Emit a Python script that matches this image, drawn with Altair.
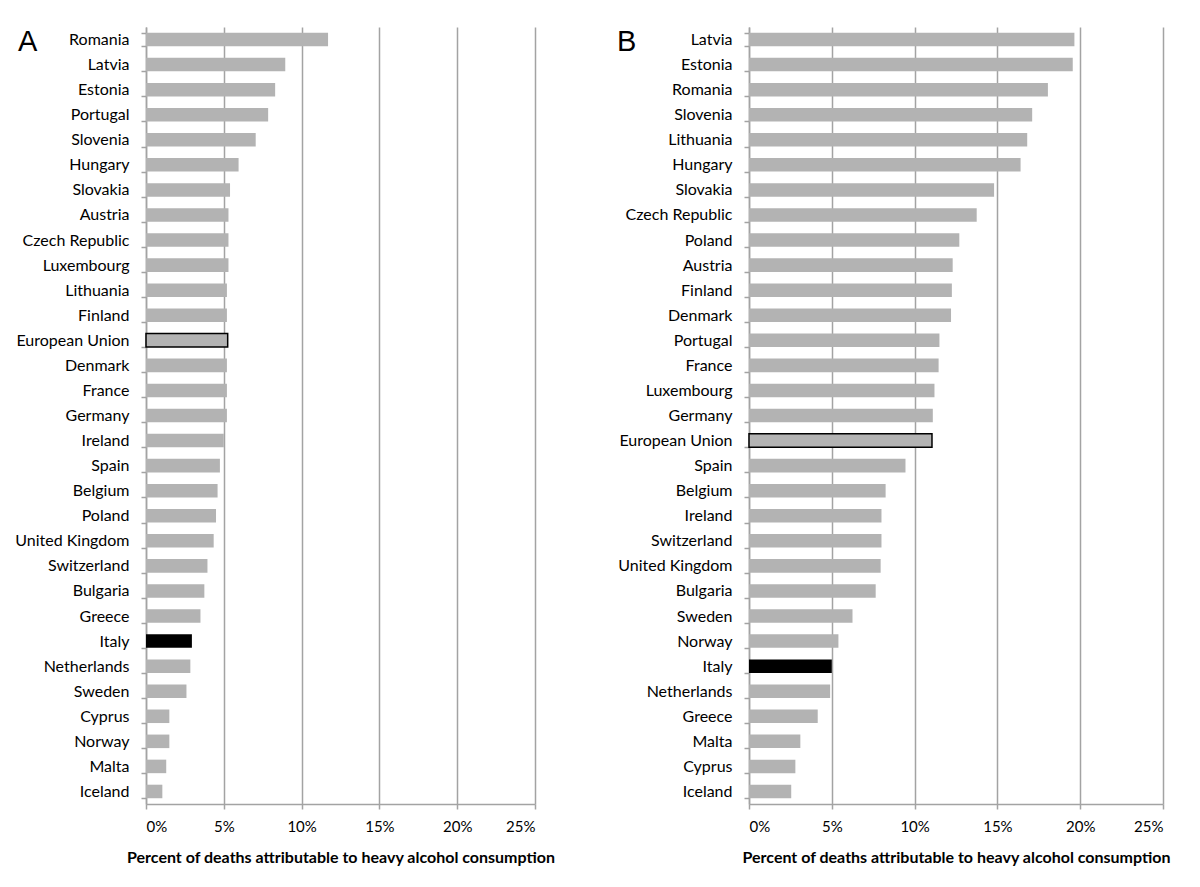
import altair as alt
import pandas as pd

countries_a = ["Romania", "Latvia", "Estonia", "Portugal", "Slovenia", "Hungary", "Slovakia",
               "Austria", "Czech Republic", "Luxembourg", "Lithuania", "Finland", "European Union",
               "Denmark", "France", "Germany", "Ireland", "Spain", "Belgium", "Poland",
               "United Kingdom", "Switzerland", "Bulgaria", "Greece", "Italy", "Netherlands",
               "Sweden", "Cyprus", "Norway", "Malta", "Iceland"]
values_a = [11.7, 8.95, 8.3, 7.85, 7.05, 5.95, 5.4, 5.3, 5.3, 5.3, 5.2, 5.2, 5.25,
            5.2, 5.2, 5.2, 5.0, 4.75, 4.6, 4.5, 4.35, 3.95, 3.75, 3.5, 2.95, 2.85,
            2.6, 1.5, 1.5, 1.3, 1.05]

countries_b = ["Latvia", "Estonia", "Romania", "Slovenia", "Lithuania", "Hungary", "Slovakia",
               "Czech Republic", "Poland", "Austria", "Finland", "Denmark", "Portugal", "France",
               "Luxembourg", "Germany", "European Union", "Spain", "Belgium", "Ireland",
               "Switzerland", "United Kingdom", "Bulgaria", "Sweden", "Norway", "Italy",
               "Netherlands", "Greece", "Malta", "Cyprus", "Iceland"]
values_b = [19.65, 19.55, 18.05, 17.1, 16.8, 16.4, 14.8, 13.75, 12.7, 12.3, 12.25, 12.2,
            11.5, 11.45, 11.2, 11.1, 11.05, 9.45, 8.25, 8.0, 8.0, 7.95, 7.65, 6.25, 5.4,
            5.0, 4.9, 4.15, 3.1, 2.8, 2.55]

tick_values = [0, 5, 10, 15, 20, 25]
x_title = "Percent of deaths attributable to heavy alcohol consumption"

FONT = "Lato"
GRID = "#a3a3a3"


def panel(countries, values, letter, width, letter_x):
    kinds = ["eu" if c == "European Union" else ("italy" if c == "Italy" else "other")
             for c in countries]
    df = pd.DataFrame({"country": countries, "value": values, "kind": kinds})
    bars = alt.Chart(df).mark_bar().encode(
        y=alt.Y("country:N", sort=countries,
                scale=alt.Scale(paddingInner=0.46, paddingOuter=0.23),
                axis=alt.Axis(title=None, tickBand="extent", tickSize=5, labelPadding=12,
                              labelFontSize=16, labelFont=FONT, labelColor="black",
                              domainColor=GRID, domainWidth=1.5, tickColor=GRID,
                              tickWidth=1.5, grid=False)),
        x=alt.X("value:Q", scale=alt.Scale(domain=[0, 25], nice=False),
                axis=alt.Axis(values=tick_values, labelExpr="datum.value + '%'",
                              title=x_title, titleFont=FONT, titleFontSize=16,
                              titleFontWeight="bold", titleColor="black", titlePadding=15,
                              labelFont=FONT, labelFontSize=15, labelColor="black",
                              labelPadding=10, tickSize=5, tickColor=GRID, tickWidth=1.5,
                              domainColor=GRID, domainWidth=1.5,
                              grid=True, gridColor=GRID, gridWidth=1.5)),
        color=alt.Color("kind:N", scale=alt.Scale(domain=["other", "eu", "italy"],
                                                  range=["#b3b3b3", "#b3b3b3", "#000000"]),
                        legend=None),
        stroke=alt.Stroke("kind:N", scale=alt.Scale(domain=["other", "eu", "italy"],
                                                    range=["transparent", "#000000", "transparent"]),
                          legend=None),
        strokeWidth=alt.value(1.5),
    )
    letter_df = pd.DataFrame({"letter": [letter]})
    lt = alt.Chart(letter_df).mark_text(align="left", baseline="alphabetic", fontSize=29,
                                        font="Liberation Sans", color="black").encode(
        text="letter:N", x=alt.value(letter_x), y=alt.value(24))
    return alt.layer(bars, lt).properties(width=width, height=777)


pa = panel(countries_a, values_a, "A", 389, -128)
pb = panel(countries_b, values_b, "B", 414, -132)

chart = alt.hconcat(pa, pb, spacing=62).properties(
    padding={"left": 6, "top": 11, "right": 5, "bottom": 5}
).configure_view(stroke=None)

chart.save("out.html", embed_options={"renderer": "svg", "actions": False})
